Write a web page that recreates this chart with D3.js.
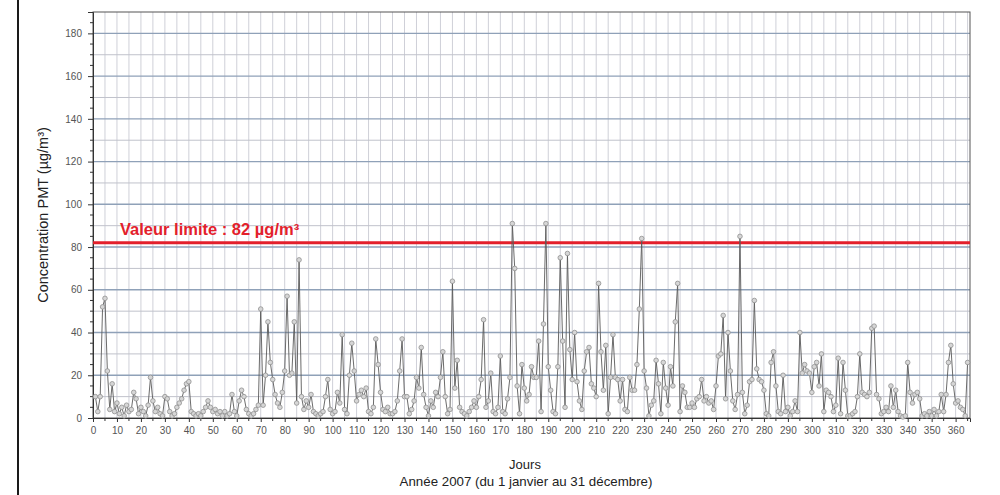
<!DOCTYPE html>
<html>
<head>
<meta charset="utf-8">
<script src="https://cdn.jsdelivr.net/npm/d3@7"></script>
<style>
  body { margin: 0; background: #fff; }
  svg { display: block; font-family: "Liberation Sans", Arial, sans-serif; }
</style>
</head>
<body>
<svg id="mainSvg"></svg>
<script>
// daily PMT concentration (µg/m3), 1 jan -> 31 dec 2007
const days1to40 = [10,3,10,52,56,22,4,16,3,7, 2,5,1,6,3,4,12,9,2,5, 3,1,6,19,8,3,5,2,1,10, 9,3,1,2,5,7,9,13,16,17];
const days41to82 = [3,2,1,2,1,3,5,8,5,3, 4,2,3,1,3,1,2,11,3,1, 8,13,10,4,2,1,2,4,6,51, 6,20,45,26,18,11,7,5,12,22, 57,20];
const days83to124 = [21,45,7,74,10,4,8,5, 11,3,2,1,2,3,10,18,4,2, 3,12,7,39,4,2,20,35,22,8, 11,13,10,14,3,2,5,37,25,12, 4,3,5,2];
const days125to165 = [2,3,8,22,37,10, 10,2,4,8,19,14,33,11,5,1, 8,5,12,10,19,31,10,2,4,64, 14,27,5,3,2,1,3,5,8,5, 10,18,46,5,8];
const days166to207 = [21,3,2,5,29, 3,2,9,19,91,70,15,2,25,14, 8,11,24,19,19,36,3,44,91,24, 13,3,2,24,75,36,5,77,32,18, 40,17,8,4,22,31,33];
const days208to248 = [16,14,10, 63,31,13,34,2,19,39,19,18,8, 18,4,3,19,13,13,25,51,84,22, 14,1,6,8,27,16,2,26,14,6, 24,15,45,63,3,15,12,5];
const days249to290 = [5,7, 5,9,10,18,8,10,7,8,4,15, 29,30,48,9,40,22,8,4,11,85, 12,2,6,17,18,55,23,18,17,13, 2,1,26,31,15,3,2,20,3,5];
const days291to332 = [1,3,8,3,40,21,25,22,21,12, 24,26,15,30,3,13,12,10,3,6, 28,2,26,13,1,1,2,3,10,30, 12,11,10,12,42,43,11,9,2,3, 5,3];
const days333to365 = [15,5,13,3,1,0.5,1,26, 12,7,11,12,9, 1,2,1,3,1,4,1,3,11,3,11,26,34,16,7,8,5,4,1,26];

const values = [].concat(days1to40, days41to82, days83to124, days125to165, days166to207,
  days208to248, days249to290, days291to332, days333to365);
const data = values.map((v, i) => ({day: i + 1, value: v}));

const limitValue = 82;
const limitLabel = 'Valeur limite : 82 µg/m³';
const xTickValues = d3.range(0, 361, 10);
const yTickValues = d3.range(0, 181, 20);

const [w, h] = [1000, 495];
const [plotLeft, plotRight, plotTop, plotBottom] = [93, 970, 12, 418];

const svg = d3.select('#mainSvg').attr('width', w).attr('height', h);

//scales
const xScale = d3.scaleLinear().domain([0, 366]).range([plotLeft, plotRight]);
const yScale = d3.scaleLinear().domain([0, 190]).range([plotBottom, plotTop]);

//outer frame line on the left
svg.append('line').attr('x1', 18).attr('x2', 18).attr('y1', 0).attr('y2', h)
  .attr('stroke', '#1a1a1a').attr('stroke-width', 2);

//grid
const grid = svg.append('g');
grid.selectAll('.vgrid').data(d3.range(5, 366, 5)).enter().append('line')
  .attr('x1', d => xScale(d)).attr('x2', d => xScale(d))
  .attr('y1', plotTop).attr('y2', plotBottom)
  .attr('stroke', '#cfd0d8').attr('stroke-width', 1);
grid.selectAll('.hgrid').data(d3.range(10, 190, 10)).enter().append('line')
  .attr('x1', plotLeft).attr('x2', plotRight)
  .attr('y1', d => yScale(d)).attr('y2', d => yScale(d))
  .attr('stroke', d => d % 20 === 0 ? '#8fa1b8' : '#c0c2cb')
  .attr('stroke-width', d => d % 20 === 0 ? 1.4 : 1);

//plot border
svg.append('rect').attr('x', plotLeft).attr('y', plotTop)
  .attr('width', plotRight - plotLeft).attr('height', plotBottom - plotTop)
  .attr('fill', 'none').attr('stroke', '#555').attr('stroke-width', 1);

//axes
const xAxis = d3.axisBottom(xScale).tickValues(xTickValues).tickSize(4).tickPadding(5);
const yAxis = d3.axisLeft(yScale).tickValues(yTickValues).tickSize(5).tickPadding(6);

const gx = svg.append('g').attr('transform', `translate(0, ${plotBottom})`).call(xAxis);
const gy = svg.append('g').attr('transform', `translate(${plotLeft}, 0)`).call(yAxis);
[gx, gy].forEach(g => {
  g.select('.domain').attr('stroke', '#333');
  g.selectAll('.tick line').attr('stroke', '#333');
  g.selectAll('.tick text').attr('fill', '#555').style('font-size', '10px');
});

//minor ticks
svg.append('g').selectAll('line').data(d3.range(5, 366, 10)).enter().append('line')
  .attr('x1', d => xScale(d)).attr('x2', d => xScale(d))
  .attr('y1', plotBottom).attr('y2', plotBottom + 3).attr('stroke', '#333');
svg.append('g').selectAll('line').data(d3.range(5, 190, 5).filter(d => d % 20 !== 0)).enter().append('line')
  .attr('x1', plotLeft - 3).attr('x2', plotLeft)
  .attr('y1', d => yScale(d)).attr('y2', d => yScale(d)).attr('stroke', '#333');

//limit line
svg.append('line').attr('x1', plotLeft).attr('x2', plotRight)
  .attr('y1', yScale(limitValue)).attr('y2', yScale(limitValue))
  .attr('stroke', '#e3202b').attr('stroke-width', 3);
svg.append('text').attr('x', 120).attr('y', yScale(limitValue) - 8)
  .attr('fill', '#e3202b').style('font-size', '16.5px').style('font-weight', 'bold')
  .text(limitLabel);

//series
const line = d3.line().x(d => xScale(d.day)).y(d => yScale(d.value));
svg.append('path').datum(data).attr('d', line)
  .attr('fill', 'none').attr('stroke', '#5a5a5a').attr('stroke-width', 0.9);
svg.append('g').selectAll('circle').data(data).enter().append('circle')
  .attr('cx', d => xScale(d.day)).attr('cy', d => yScale(d.value)).attr('r', 2.3)
  .attr('fill', '#d6d6d6').attr('stroke', '#919191').attr('stroke-width', 0.8);

//labels
svg.append('text').attr('transform', `translate(48, ${(plotTop + plotBottom) / 2}) rotate(-90)`)
  .attr('text-anchor', 'middle').attr('fill', '#222').style('font-size', '14.5px')
  .text('Concentration PMT (µg/m³)');
svg.append('text').attr('x', 525).attr('y', 469).attr('text-anchor', 'middle')
  .attr('fill', '#222').style('font-size', '13px').text('Jours');
svg.append('text').attr('x', 526).attr('y', 486).attr('text-anchor', 'middle')
  .attr('fill', '#222').style('font-size', '13.3px').text('Année 2007 (du 1 janvier au 31 décembre)');
</script>
</body>
</html>
